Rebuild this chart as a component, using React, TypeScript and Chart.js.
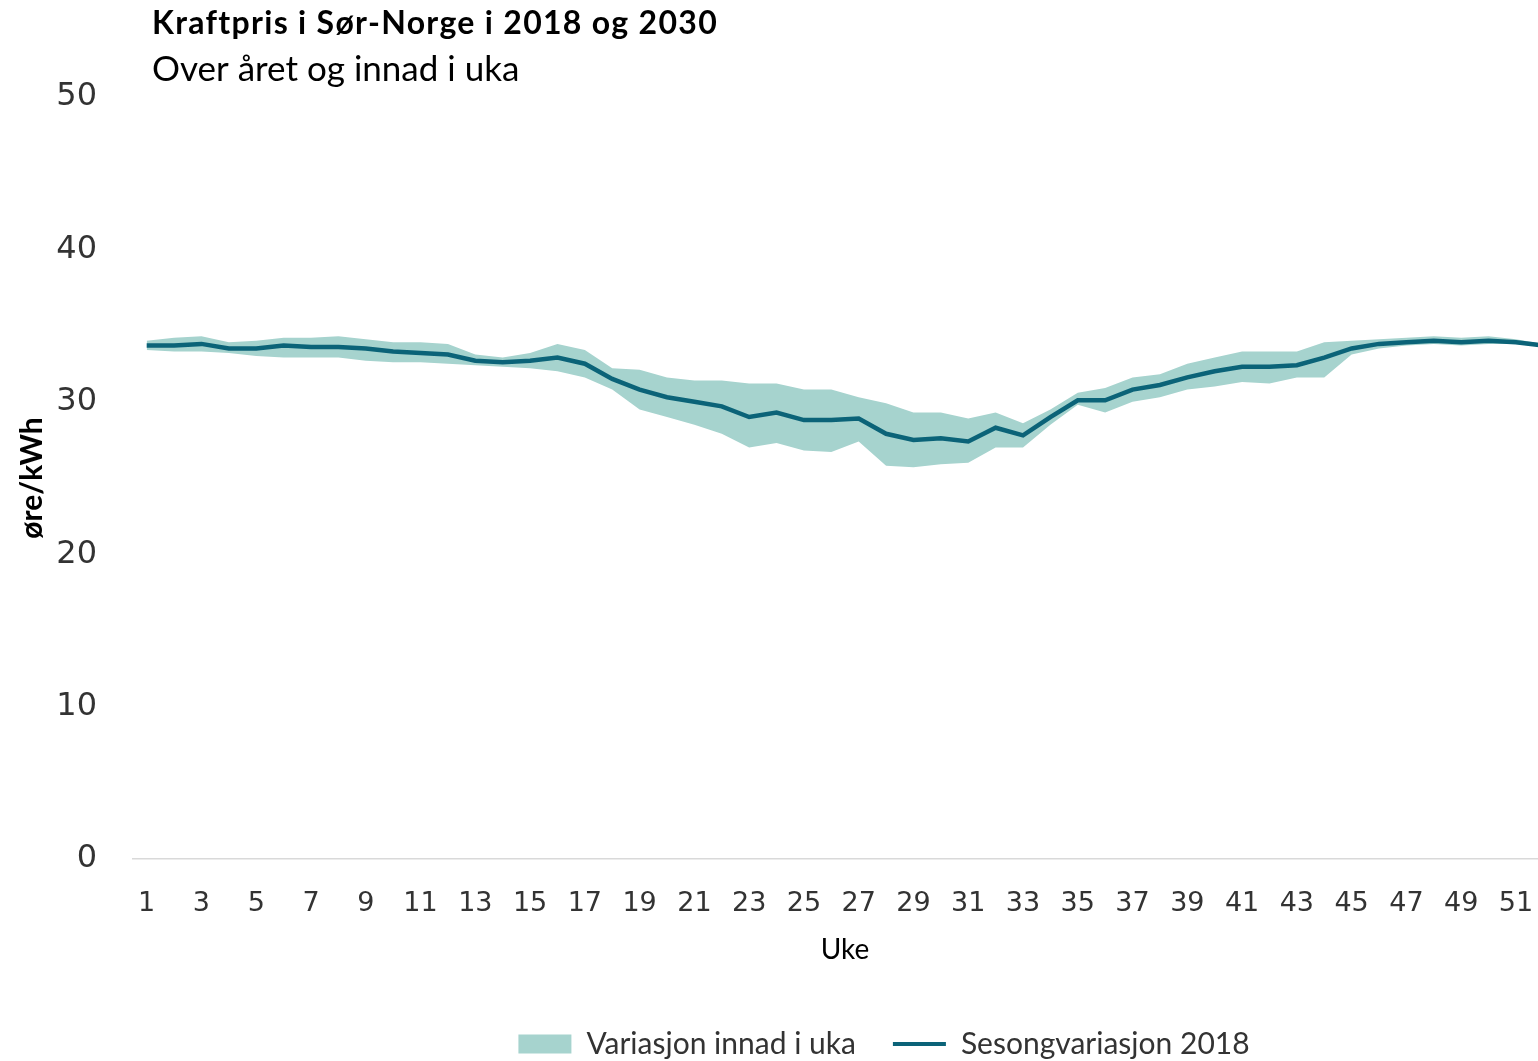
import React, { useEffect, useRef } from "react";
import { Chart, registerables } from "chart.js";

Chart.register(...registerables);

const weeks = [
  1, 2, 3, 4, 5, 6, 7, 8, 9, 10, 11, 12, 13, 14, 15, 16, 17, 18, 19, 20, 21, 22, 23, 24, 25, 26,
  27, 28, 29, 30, 31, 32, 33, 34, 35, 36, 37, 38, 39, 40, 41, 42, 43, 44, 45, 46, 47, 48, 49, 50, 51, 52,
];

const season2018 = [
  33.7, 33.7, 33.8, 33.5, 33.5, 33.7, 33.6, 33.6, 33.5, 33.3, 33.2, 33.1, 32.7, 32.6, 32.7, 32.9, 32.5,
  31.5, 30.8, 30.3, 30.0, 29.7, 29.0, 29.3, 28.8, 28.8, 28.9, 27.9, 27.5, 27.6, 27.4, 28.3, 27.8, 29.0,
  30.1, 30.1, 30.8, 31.1, 31.6, 32.0, 32.3, 32.3, 32.4, 32.9, 33.5, 33.8, 33.9, 34.0, 33.9, 34.0, 33.9, 33.7,
];

const weekHigh = [
  34.0, 34.2, 34.3, 33.9, 34.0, 34.2, 34.2, 34.3, 34.1, 33.9, 33.9, 33.8, 33.1, 32.9, 33.2, 33.8, 33.4,
  32.2, 32.1, 31.6, 31.4, 31.4, 31.2, 31.2, 30.8, 30.8, 30.3, 29.9, 29.3, 29.3, 28.9, 29.3, 28.6, 29.5,
  30.6, 30.9, 31.6, 31.8, 32.5, 32.9, 33.3, 33.3, 33.3, 33.9, 34.0, 34.1, 34.2, 34.3, 34.2, 34.3, 34.1, 33.8,
];

const weekLow = [
  33.4, 33.3, 33.3, 33.2, 33.0, 32.9, 32.9, 32.9, 32.7, 32.6, 32.6, 32.5, 32.4, 32.3, 32.2, 32.0, 31.6,
  30.8, 29.5, 29.0, 28.5, 27.9, 27.0, 27.3, 26.8, 26.7, 27.4, 25.8, 25.7, 25.9, 26.0, 27.0, 27.0, 28.5,
  29.8, 29.3, 30.0, 30.3, 30.8, 31.0, 31.3, 31.2, 31.6, 31.6, 33.1, 33.5, 33.7, 33.8, 33.7, 33.8, 33.8, 33.6,
];

const yTicks = [0, 10, 20, 30, 40, 50];

const titleText = "Kraftpris i Sør-Norge i 2018 og 2030";
const subtitleText = "Over året og innad i uka";
const yTitle = "øre/kWh";
const xTitle = "Uke";
const bandLabel = "Variasjon innad i uka";
const lineLabel = "Sesongvariasjon 2018";

const BAND = "#A6D3CE";
const LINE = "#0B6378";
const TEXT = "#333333";
const SANS = "Lato, 'Open Sans', sans-serif";
const TICKFONT = "'DejaVu Sans', sans-serif";

const headerPlugin = {
  id: "header",
  afterDraw(chart: any) {
    const ctx = chart.ctx;
    ctx.save();
    ctx.fillStyle = "#000";
    ctx.textAlign = "left";
    ctx.textBaseline = "alphabetic";
    ctx.font = `bold 32px ${SANS}`;
    try {
      ctx.letterSpacing = "1.3px";
    } catch (e) {}
    ctx.fillText(titleText, 152, 34);
    try {
      ctx.letterSpacing = "0px";
    } catch (e) {}
    ctx.font = `35px ${SANS}`;
    ctx.fillText(subtitleText, 152, 81);
    ctx.restore();
  },
};

export default function App() {
  const ref = useRef<HTMLCanvasElement | null>(null);

  useEffect(() => {
    if (!ref.current) return;
    const chart = new Chart(ref.current, {
      type: "line",
      data: {
        labels: weeks,
        datasets: [
          {
            label: lineLabel,
            data: season2018,
            order: 0,
            borderWidth: 4.5,
            borderColor: LINE,
            backgroundColor: LINE,
            pointRadius: 0,
            fill: false,
            tension: 0,
          },
          {
            label: bandLabel,
            data: weekHigh,
            order: 1,
            borderWidth: 0,
            borderColor: BAND,
            backgroundColor: BAND,
            pointRadius: 0,
            fill: "+1",
          },
          {
            label: bandLabel + " min",
            data: weekLow,
            order: 2,
            borderWidth: 0,
            borderColor: BAND,
            backgroundColor: BAND,
            pointRadius: 0,
            fill: false,
          },
        ],
      },
      options: {
        responsive: false,
        animation: false,
        devicePixelRatio: 1,
        layout: { padding: { top: 97, left: 0, right: 0, bottom: 0 } },
        plugins: {
          title: { display: false },
          tooltip: { enabled: false },
          legend: {
            display: true,
            position: "bottom",
            align: "center",
            labels: {
              usePointStyle: true,
              pointStyleWidth: 53,
              boxHeight: 19,
              padding: 37,
              color: TEXT,
              font: { family: SANS, size: 30 },
              generateLabels: () => [
                {
                  text: bandLabel,
                  fillStyle: BAND,
                  strokeStyle: BAND,
                  lineWidth: 0,
                  pointStyle: "rect",
                  hidden: false,
                  datasetIndex: 1,
                  fontColor: TEXT,
                },
                {
                  text: lineLabel,
                  fillStyle: LINE,
                  strokeStyle: LINE,
                  lineWidth: 4,
                  pointStyle: "line",
                  hidden: false,
                  datasetIndex: 0,
                  fontColor: TEXT,
                },
              ],
            },
          },
        },
        scales: {
          x: {
            type: "category",
            offset: true,
            grid: { display: false, drawTicks: false },
            border: { display: true, color: "#D9D9D9", width: 1.5 },
            ticks: {
              autoSkip: false,
              maxRotation: 0,
              minRotation: 0,
              padding: 29,
              color: TEXT,
              font: { family: TICKFONT, size: 27 },
              callback: (_v: any, i: number) => (i % 2 === 0 ? String(weeks[i]) : ""),
            },
            title: {
              display: true,
              text: xTitle,
              color: "#000",
              font: { family: SANS, size: 28 },
              padding: { top: 0, bottom: 25 },
            },
            afterFit: (s: any) => {
              s.height = 133;
            },
          },
          y: {
            type: "linear",
            min: 0,
            max: 50,
            afterBuildTicks: (s: any) => {
              s.ticks = yTicks.map((v) => ({ value: v }));
            },
            grid: { display: false, drawTicks: false },
            border: { display: false },
            ticks: {
              padding: 36,
              color: TEXT,
              font: { family: TICKFONT, size: 32 },
            },
            title: {
              display: true,
              text: yTitle,
              color: "#000",
              font: { family: SANS, size: 30, weight: "bold" },
              padding: { top: 14, bottom: 0 },
            },
            afterFit: (s: any) => {
              s.width = 133;
            },
          },
          yRight: {
            type: "linear",
            position: "right",
            display: true,
            grid: { display: false, drawTicks: false },
            border: { display: false },
            ticks: { display: false },
            afterFit: (s: any) => {
              s.width = 211;
            },
          },
        },
      },
      plugins: [headerPlugin],
    } as any);
    return () => chart.destroy();
  }, []);

  return (
    <div
      style={{
        position: "fixed",
        left: 0,
        top: 0,
        width: 1538,
        height: 1061,
        overflow: "hidden",
        background: "#fff",
      }}
    >
      <canvas ref={ref} width={1768} height={1069} style={{ display: "block" }} />
    </div>
  );
}
